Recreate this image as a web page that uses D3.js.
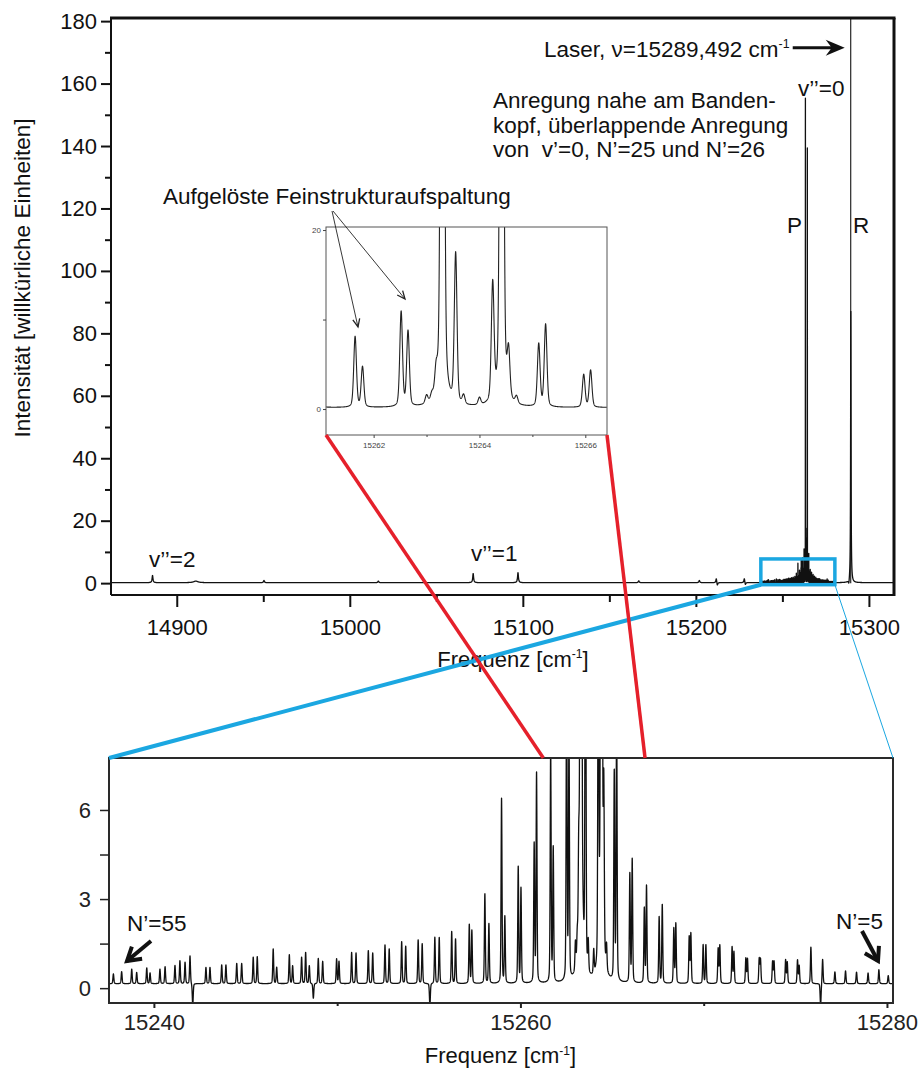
<!DOCTYPE html>
<html>
<head>
<meta charset="utf-8">
<script src="https://cdn.jsdelivr.net/npm/d3@7"></script>
<style>
  body { margin: 0; background: #fff; }
  svg { display: block; }
</style>
</head>
<body>
<svg id="fig" width="923" height="1073"></svg>
<script>
// ---------------------------------------------------------------
// Rotational lines of the band head region (position in cm^-1, intensity)
// ---------------------------------------------------------------
const bandLinePos = [
  15237.79, 15238.24, 15238.79, 15239.06, 15239.61, 15239.79, 15240.33, 15240.61,
  15241.15, 15241.42, 15241.70, 15241.97, 15242.12, 15242.84, 15243.06, 15243.70,
  15243.93, 15244.52, 15244.79, 15245.42, 15245.64, 15246.51, 15246.70, 15247.39,
  15247.57, 15248.06, 15248.28, 15248.48, 15248.70, 15248.97, 15249.21, 15249.97,
  15250.10, 15250.79, 15251.03, 15251.70, 15251.94, 15252.61, 15252.84, 15253.52,
  15253.74, 15254.42, 15254.64, 15255.06, 15255.33, 15255.57, 15256.25, 15256.46,
  15257.21, 15257.35, 15258.06, 15258.28, 15258.97, 15259.15, 15259.88, 15260.03,
  15260.75, 15260.88, 15261.65, 15261.79, 15262.52, 15262.65, 15263.00, 15263.10,
  15263.18, 15263.30, 15263.55, 15263.70, 15264.00, 15264.25, 15264.42, 15264.55,
  15264.70, 15265.12, 15265.25, 15265.97, 15266.10, 15266.76, 15266.88, 15267.57,
  15267.74, 15268.37, 15268.48, 15269.21, 15269.30, 15269.97, 15270.12, 15270.79,
  15270.88, 15271.55, 15271.65, 15272.30, 15272.39, 15273.03, 15273.10, 15273.76,
  15273.84, 15274.47, 15274.56, 15275.12, 15275.21, 15275.85, 15276.38, 15276.49,
  15277.16, 15277.74, 15278.34, 15278.97, 15279.56, 15280.07
];
const bandLineInt = [
  0.33, 0.41, 0.49, 0.38, 0.53, 0.36, 0.49, 0.57,
  0.61, 0.77, 0.72, 0.94, -0.75, 0.55, 0.55, 0.63,
  0.63, 0.68, 0.68, 0.89, 0.91, 1.17, 0.55, 0.97,
  0.60, 0.89, 1.05, 0.60, -0.50, 0.85, 0.75, 0.83,
  0.75, 1.05, 1.03, 1.11, 1.03, 1.30, 1.17, 1.41,
  1.26, 1.47, 1.34, -0.75, 1.56, 1.55, 1.75, 1.50,
  1.98, 1.78, 3.02, 2.01, 6.22, 2.23, 3.92, 3.19,
  4.65, 7.06, 7.90, 4.50, 10.6, 8.40, 0.90, 0.70,
  2.50, 155.0, 16.7, 1.00, 0.80, 13.0, 139.0, 5.00,
  0.80, 7.00, 9.20, 3.65, 4.15, 2.51, 3.27, 2.23,
  2.65, 1.84, 2.01, 1.56, 1.67, 1.30, 1.30, 1.17,
  1.28, 1.23, 1.06, 0.85, 0.83, 0.83, 0.81, 0.74,
  0.74, 0.79, 0.72, 0.79, 0.60, 1.23, -0.75, 0.83,
  0.40, 0.43, 0.39, 0.36, 0.47, 0.27
];
const bandBaseline = 0.15;
const bandLineWidth = 0.03;          // HWHM in cm^-1
const bandLorentzShare = 0.3;        // pseudo-Voigt mixing

// Further features of the overview spectrum (v''=2, v''=1, R line, ...)
const overviewPos   = [14886.0, 14911.0, 14950.4, 15016.5, 15071.3, 15097.2, 15167.0,
                       15202.0, 15211.8, 15212.4, 15228.0, 15228.6, 15288.4, 15289.55];
const overviewInt   = [2.3, 0.5, 0.7, 0.5, 2.9, 3.2, 0.6,
                       0.7, 1.4, -1.0, 1.4, -0.8, -1.5, 87.0];
const overviewWidth = [0.3, 1.5, 0.3, 0.3, 0.3, 0.3, 0.3,
                       0.3, 0.3, 0.3, 0.3, 0.3, 0.3, 0.15];

const laserLine = 15289.492;

// axis ticks
const mainXTicks  = [14900, 15000, 15100, 15200, 15300];
const mainXMinor  = [14950, 15050, 15150, 15250];
const mainYTicks  = [0, 20, 40, 60, 80, 100, 120, 140, 160, 180];
const mainYMinor  = [10, 30, 50, 70, 90, 110, 130, 150, 170];
const lowerXTicks = [15240, 15260, 15280];
const lowerXMinor = [15250, 15270];
const lowerYTicks = [0, 3, 6];
const lowerYMinor = [1.5, 4.5];
const insetXTicks = [15262, 15264, 15266];
const insetXMinor = [15263, 15265];
const insetYTicks = [0, 20];
const insetYMinor = [10];

// visible windows
const mainXDomain  = [14862, 15314.5];
const mainYDomain  = [-3.8, 181];
const lowerXDomain = [15237.55, 15280.33];
const lowerYDomain = [-0.5, 7.75];
const insetXDomain = [15261.10, 15266.41];
const insetYDomain = [-2.9, 20.34];
const insetSpan    = [15261.25, 15266.8];   // where the zoom connectors meet the lower panel

// ---------------------------------------------------------------
const FONT = '"Liberation Sans", Arial, Helvetica, sans-serif';
const svg = d3.select('#fig');

const mainBox  = {l: 111, r: 894, t: 18,  b: 595};
const lowBox   = {l: 109, r: 893, t: 758, b: 1003};
const insetBox = {l: 326, r: 607, t: 227, b: 435};

const mainX  = d3.scaleLinear().domain(mainXDomain).range([mainBox.l, mainBox.r]);
const mainY  = d3.scaleLinear().domain(mainYDomain).range([mainBox.b, mainBox.t]);
const lowX   = d3.scaleLinear().domain(lowerXDomain).range([lowBox.l, lowBox.r]);
const lowY   = d3.scaleLinear().domain(lowerYDomain).range([lowBox.b, lowBox.t]);
const insetX = d3.scaleLinear().domain(insetXDomain).range([insetBox.l, insetBox.r]);
const insetY = d3.scaleLinear().domain(insetYDomain).range([insetBox.b, insetBox.t]);

// spectrum as a sum of pseudo-Voigt lines
const LN2 = Math.LN2;
function bandValue(x) {
  let s = bandBaseline;
  for (let i = 0; i < bandLinePos.length; i++) {
    const d = (x - bandLinePos[i]) / bandLineWidth;
    const d2 = d * d;
    if (d2 > 40000) continue;
    const prof = bandLorentzShare / (1 + d2) + (1 - bandLorentzShare) * Math.exp(-LN2 * d2);
    s += bandLineInt[i] * prof;
  }
  return s;
}
function overviewValue(x) {
  let s = bandValue(x);
  for (let i = 0; i < overviewPos.length; i++) {
    const d = (x - overviewPos[i]) / overviewWidth[i];
    s += overviewInt[i] / (1 + d * d);
  }
  return s;
}

function clip(id, b) {
  svg.append('clipPath').attr('id', id)
    .append('rect').attr('x', b.l).attr('y', b.t)
    .attr('width', b.r - b.l).attr('height', b.b - b.t);
}
clip('clipMain', mainBox);
clip('clipLow', lowBox);
clip('clipInset', insetBox);

function styleAxis(g, size, color, width) {
  g.attr('font-family', FONT).attr('font-size', size);
  g.select('.domain').remove();
  g.selectAll('.tick line').attr('stroke', color).attr('stroke-width', width);
  g.selectAll('.tick text').attr('fill', color);
}

function chevron(x1, y1, x2, y2, len, half) {
  const a = Math.atan2(y2 - y1, x2 - x1);
  const ux = Math.cos(a), uy = Math.sin(a);
  const bx = x2 - ux * len, by = y2 - uy * len;
  return `M${bx - uy * half},${by + ux * half}L${x2},${y2}L${bx + uy * half},${by - ux * half}`;
}

function label(x, y, size, parts, anchor) {
  const t = svg.append('text').attr('x', x).attr('y', y)
    .attr('font-family', FONT).attr('font-size', size).attr('fill', '#111')
    .attr('text-anchor', anchor || 'start').style('white-space', 'pre');
  parts.forEach(p => {
    const s = t.append('tspan').text(p.t);
    if (p.sup) s.attr('font-size', size * 0.55).attr('dy', -size * 0.38);
    if (p.down) s.attr('dy', size * 0.38);
  });
  return t;
}

// ================= overview panel =================
const mainPts = d3.range(mainXDomain[0], mainXDomain[1], 0.01).map(x => [x, overviewValue(x)]);
svg.append('path')
  .attr('clip-path', 'url(#clipMain)')
  .attr('d', d3.line().x(d => mainX(d[0])).y(d => mainY(d[1]))(mainPts))
  .attr('fill', 'none').attr('stroke', '#111').attr('stroke-width', 1.3)
  .attr('stroke-linejoin', 'round');

// laser line
svg.append('line')
  .attr('x1', mainX(laserLine)).attr('x2', mainX(laserLine))
  .attr('y1', mainY(0)).attr('y2', mainBox.t)
  .attr('stroke', '#111').attr('stroke-width', 1.1);

// frame
svg.append('line').attr('x1', mainBox.l - 1).attr('x2', mainBox.r + 1.5)
  .attr('y1', mainBox.t).attr('y2', mainBox.t).attr('stroke', '#111').attr('stroke-width', 3);
svg.append('line').attr('x1', mainBox.r).attr('x2', mainBox.r)
  .attr('y1', mainBox.t).attr('y2', mainBox.b + 1).attr('stroke', '#111').attr('stroke-width', 3);
svg.append('line').attr('x1', mainBox.l).attr('x2', mainBox.l)
  .attr('y1', mainBox.t).attr('y2', mainBox.b).attr('stroke', '#111').attr('stroke-width', 2);
svg.append('line').attr('x1', mainBox.l).attr('x2', mainBox.r)
  .attr('y1', mainBox.b).attr('y2', mainBox.b).attr('stroke', '#111').attr('stroke-width', 2);

// axes
styleAxis(svg.append('g').attr('transform', `translate(0,${mainBox.b + 1})`)
  .call(d3.axisBottom(mainX).tickValues(mainXTicks).tickSize(11).tickPadding(12).tickFormat(d => d)), 22, '#111', 2);
styleAxis(svg.append('g').attr('transform', `translate(0,${mainBox.b + 1})`)
  .call(d3.axisBottom(mainX).tickValues(mainXMinor).tickSize(6).tickFormat('')), 22, '#111', 2);
styleAxis(svg.append('g').attr('transform', `translate(${mainBox.l},0)`)
  .call(d3.axisLeft(mainY).tickValues(mainYTicks).tickSize(10).tickPadding(4).tickFormat(d => d)), 22, '#111', 2);
styleAxis(svg.append('g').attr('transform', `translate(${mainBox.l},0)`)
  .call(d3.axisLeft(mainY).tickValues(mainYMinor).tickSize(6).tickFormat('')), 22, '#111', 2);

// axis titles
label(513, 666.5, 22, [{t: 'Frequenz [cm'}, {t: '-1', sup: true}, {t: ']', down: true}], 'middle');
svg.append('text')
  .attr('transform', 'translate(30,278) rotate(-90)')
  .attr('text-anchor', 'middle').attr('font-family', FONT).attr('font-size', 22.5).attr('fill', '#111')
  .text('Intensität [willkürliche Einheiten]');

// annotations
const AF = 22.5;
label(149, 567, AF, [{t: 'v’’=2'}]);
label(471, 561, AF, [{t: 'v’’=1'}]);
label(798, 96, AF, [{t: 'v’’=0'}]);
label(787, 233, AF, [{t: 'P'}]);
label(853, 233, AF, [{t: 'R'}]);
label(493, 108, AF, [{t: 'Anregung nahe am Banden-'}]);
label(493, 132.5, AF, [{t: 'kopf, überlappende Anregung'}]);
label(493, 157, AF, [{t: 'von  v’=0, N’=25 und N’=26'}]);
label(163, 204, AF, [{t: 'Aufgelöste Feinstrukturaufspaltung'}]);
label(544, 57, AF, [{t: 'Laser, ν=15289,492 cm'}, {t: '-1', sup: true}]);

// laser arrow
{
  const tipX = mainX(laserLine) - 6, ay = 47.7;
  svg.append('line').attr('x1', tipX - 52).attr('x2', tipX - 10).attr('y1', ay).attr('y2', ay)
    .attr('stroke', '#111').attr('stroke-width', 3);
  svg.append('path')
    .attr('d', `M${tipX},${ay}L${tipX - 19},${ay - 8}L${tipX - 13},${ay}L${tipX - 19},${ay + 8}Z`)
    .attr('fill', '#111');
}

// ================= inset =================
svg.append('rect').attr('x', insetBox.l).attr('y', insetBox.t)
  .attr('width', insetBox.r - insetBox.l).attr('height', insetBox.b - insetBox.t)
  .attr('fill', '#fff');
const insetPts = d3.range(insetXDomain[0], insetXDomain[1], 0.002).map(x => [x, bandValue(x)]);
svg.append('path')
  .attr('clip-path', 'url(#clipInset)')
  .attr('d', d3.line().x(d => insetX(d[0])).y(d => insetY(d[1]))(insetPts))
  .attr('fill', 'none').attr('stroke', '#222').attr('stroke-width', 1.1)
  .attr('stroke-linejoin', 'round');
svg.append('rect').attr('x', insetBox.l).attr('y', insetBox.t)
  .attr('width', insetBox.r - insetBox.l).attr('height', insetBox.b - insetBox.t)
  .attr('fill', 'none').attr('stroke', '#555').attr('stroke-width', 1);
styleAxis(svg.append('g').attr('transform', `translate(${insetBox.l},0)`)
  .call(d3.axisLeft(insetY).tickValues(insetYTicks).tickSize(3).tickPadding(2).tickFormat(d => d)), 8, '#444', 1);
styleAxis(svg.append('g').attr('transform', `translate(${insetBox.l},0)`)
  .call(d3.axisLeft(insetY).tickValues(insetYMinor).tickSize(3).tickFormat('')), 8, '#444', 1);
styleAxis(svg.append('g').attr('transform', `translate(0,${insetBox.b})`)
  .call(d3.axisBottom(insetX).tickValues(insetXTicks).tickSize(3).tickPadding(4).tickFormat(d => d)), 8, '#444', 1);
styleAxis(svg.append('g').attr('transform', `translate(0,${insetBox.b})`)
  .call(d3.axisBottom(insetX).tickValues(insetXMinor).tickSize(2).tickFormat('')), 8, '#444', 1);

// arrows to the resolved doublets
[[332, 211, 358, 327], [333, 211, 405, 299]].forEach(a => {
  svg.append('line').attr('x1', a[0]).attr('y1', a[1]).attr('x2', a[2]).attr('y2', a[3])
    .attr('stroke', '#222').attr('stroke-width', 0.9);
  svg.append('path').attr('d', chevron(a[0], a[1], a[2], a[3], 8, 3.5))
    .attr('fill', 'none').attr('stroke', '#222').attr('stroke-width', 1.3);
  svg.append('path')
    .attr('d', `M${a[2] - 4.5},${a[3] + 7}Q${a[2] + 0.5},${a[3] + 1}${a[2] + 5.5},${a[3] + 7}`)
    .attr('fill', 'none').attr('stroke', '#222').attr('stroke-width', 1.6);
});

// ================= zoomed band head =================
const lowPts = d3.range(lowerXDomain[0], lowerXDomain[1], 0.004).map(x => [x, bandValue(x)]);
svg.append('path')
  .attr('clip-path', 'url(#clipLow)')
  .attr('d', d3.line().x(d => lowX(d[0])).y(d => lowY(d[1]))(lowPts))
  .attr('fill', 'none').attr('stroke', '#111').attr('stroke-width', 1.3)
  .attr('stroke-linejoin', 'round');
svg.append('rect').attr('x', lowBox.l).attr('y', lowBox.t)
  .attr('width', lowBox.r - lowBox.l).attr('height', lowBox.b - lowBox.t)
  .attr('fill', 'none').attr('stroke', '#2a2a2a').attr('stroke-width', 2);
styleAxis(svg.append('g').attr('transform', `translate(0,${lowBox.b})`)
  .call(d3.axisBottom(lowX).tickValues(lowerXTicks).tickSize(5).tickPadding(6.5).tickFormat(d => d)), 22, '#222', 2);
styleAxis(svg.append('g').attr('transform', `translate(0,${lowBox.b})`)
  .call(d3.axisBottom(lowX).tickValues(lowerXMinor).tickSize(3).tickFormat('')), 22, '#222', 2);
styleAxis(svg.append('g').attr('transform', `translate(${lowBox.l},0)`)
  .call(d3.axisLeft(lowY).tickValues(lowerYTicks).tickSize(9).tickPadding(9).tickFormat(d => d)), 22, '#222', 1.5);
styleAxis(svg.append('g').attr('transform', `translate(${lowBox.l},0)`)
  .call(d3.axisLeft(lowY).tickValues(lowerYMinor).tickSize(9).tickFormat('')), 22, '#222', 1.5);
label(500.5, 1063, 22, [{t: 'Frequenz [cm'}, {t: '-1', sup: true}, {t: ']', down: true}], 'middle');

label(127, 931, AF, [{t: 'N’=55'}]);
label(836, 929, AF, [{t: 'N’=5'}]);
[[151, 941, 127, 961], [862, 931, 878, 961]].forEach(a => {
  svg.append('line').attr('x1', a[0]).attr('y1', a[1]).attr('x2', a[2]).attr('y2', a[3])
    .attr('stroke', '#111').attr('stroke-width', 4);
  svg.append('path').attr('d', chevron(a[0], a[1], a[2], a[3], 13, 8))
    .attr('fill', 'none').attr('stroke', '#111').attr('stroke-width', 4)
    .attr('stroke-linejoin', 'miter');
});

// ================= zoom markers and connectors =================
const BLUE = '#1ba7e1', RED = '#e5202b';
svg.append('rect')
  .attr('x', mainX(lowerXDomain[0])).attr('y', mainY(lowerYDomain[1]))
  .attr('width', mainX(lowerXDomain[1]) - mainX(lowerXDomain[0]))
  .attr('height', mainY(lowerYDomain[0]) - mainY(lowerYDomain[1]))
  .attr('fill', 'none').attr('stroke', BLUE).attr('stroke-width', 3.5);
svg.append('line')
  .attr('x1', mainX(lowerXDomain[0])).attr('y1', mainY(lowerYDomain[0]))
  .attr('x2', lowBox.l).attr('y2', lowBox.t)
  .attr('stroke', BLUE).attr('stroke-width', 4);
svg.append('line')
  .attr('x1', mainX(lowerXDomain[1])).attr('y1', mainY(lowerYDomain[0]))
  .attr('x2', lowBox.r).attr('y2', lowBox.t)
  .attr('stroke', BLUE).attr('stroke-width', 1);
svg.append('line')
  .attr('x1', insetBox.l).attr('y1', insetBox.b)
  .attr('x2', lowX(insetSpan[0])).attr('y2', lowBox.t)
  .attr('stroke', RED).attr('stroke-width', 3.5);
svg.append('line')
  .attr('x1', insetBox.r).attr('y1', insetBox.b)
  .attr('x2', lowX(insetSpan[1])).attr('y2', lowBox.t)
  .attr('stroke', RED).attr('stroke-width', 3.5);
</script>
</body>
</html>
